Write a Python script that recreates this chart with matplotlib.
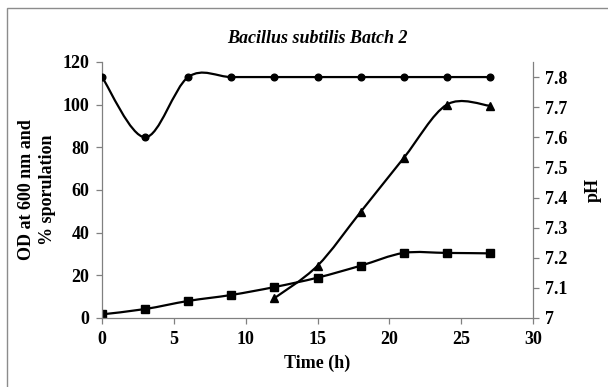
import numpy as np
import matplotlib
matplotlib.use("Agg")
import matplotlib.pyplot as plt
from matplotlib.path import Path
from matplotlib.patches import PathPatch, Rectangle

# ---- data ----
time_h = [0, 3, 6, 9, 12, 15, 18, 21, 24, 27]
od600 = [1.7, 4.2, 8.0, 10.8, 14.5, 18.9, 24.5, 30.5, 30.5, 30.3]
spor_time = [12, 15, 18, 21, 24, 27]
sporulation = [9.3, 24.5, 49.7, 75.0, 100.0, 99.5]
ph_values = [7.8, 7.6, 7.8, 7.8, 7.8, 7.8, 7.8, 7.8, 7.8, 7.8]

x_ticks = [0, 5, 10, 15, 20, 25, 30]
left_ticks = [0, 20, 40, 60, 80, 100, 120]
right_ticks = [7.0, 7.1, 7.2, 7.3, 7.4, 7.5, 7.6, 7.7, 7.8]
right_labels = ["7", "7.1", "7.2", "7.3", "7.4", "7.5", "7.6", "7.7", "7.8"]

plt.rcParams['font.family'] = ['Liberation Serif', 'DejaVu Serif']
plt.rcParams['font.weight'] = 'bold'


def smooth_path(xs, ys):
    """Excel-like smoothed line: Catmull-Rom converted to cubic Bezier."""
    pts = np.column_stack([xs, ys]).astype(float)
    n = len(pts)
    verts = [pts[0]]
    codes = [Path.MOVETO]
    for i in range(n - 1):
        p0 = pts[i - 1] if i > 0 else pts[i]
        p1 = pts[i]
        p2 = pts[i + 1]
        p3 = pts[i + 2] if i + 2 < n else pts[i + 1]
        c1 = p1 + (p2 - p0) / 6.0
        c2 = p2 - (p3 - p1) / 6.0
        verts += [c1, c2, p2]
        codes += [Path.CURVE4] * 3
    return Path(verts, codes)


fig = plt.figure(figsize=(6.08, 3.87), dpi=100)
ax = fig.add_axes([102 / 608, 1 - 318 / 387, (533 - 102) / 608, (318 - 62) / 387])
ax2 = ax.twinx()

grey = '#808080'
lw = 1.6

# OD series (squares)
ax.add_patch(PathPatch(smooth_path(time_h, od600), fill=False, lw=lw, color='black'))
ax.plot(time_h, od600, ls='none', marker='s', ms=5.2, color='black')
# sporulation (triangles)
ax.add_patch(PathPatch(smooth_path(spor_time, sporulation), fill=False, lw=lw, color='black'))
ax.plot(spor_time, sporulation, ls='none', marker='^', ms=5.5, color='black')
# pH (circles) on right axis
ax2.add_patch(PathPatch(smooth_path(time_h, ph_values), fill=False, lw=lw, color='black'))
ax2.plot(time_h, ph_values, ls='none', marker='o', ms=4.8, color='black')

ax.set_xlim(0, 30)
ax.set_ylim(0, 120)
ax2.set_ylim(7.0, 7.85)
ax.set_xticks(x_ticks)
ax.set_yticks(left_ticks)
ax2.set_yticks(right_ticks)
ax2.set_yticklabels(right_labels)

for a in (ax, ax2):
    for s in a.spines.values():
        s.set_color(grey)
        s.set_linewidth(0.9)
    a.spines['top'].set_visible(False)
ax.spines['right'].set_visible(False)
ax2.spines['left'].set_visible(False)
ax2.spines['bottom'].set_visible(False)

fs = 13
ax.tick_params(axis='both', direction='out', length=4, width=0.9, color=grey,
               labelsize=fs, pad=5)
ax2.tick_params(axis='y', direction='out', length=4, width=0.9, color=grey,
                labelsize=fs, pad=5)
for lab in ax.get_xticklabels() + ax.get_yticklabels() + ax2.get_yticklabels():
    lab.set_fontweight('bold')

ax.set_xlabel('Time (h)', fontsize=fs, fontweight='bold', labelpad=5)
ax.set_ylabel('OD at 600 nm and\n% sporulation', fontsize=fs, fontweight='bold',
              labelpad=5, linespacing=1.25)
ax2.set_ylabel('pH', fontsize=fs, fontweight='bold', labelpad=12)
ax.set_title('Bacillus subtilis Batch 2', fontsize=13, fontweight='bold',
             style='italic', pad=14)

# outer chart border
fig.patches.append(Rectangle((7 / 608, -0.05), 1.0, 1 - 8 / 387 + 0.05,
                             transform=fig.transFigure, fill=False,
                             edgecolor='#8c8c8c', lw=1.0))

fig.savefig('out.png', dpi=100)
